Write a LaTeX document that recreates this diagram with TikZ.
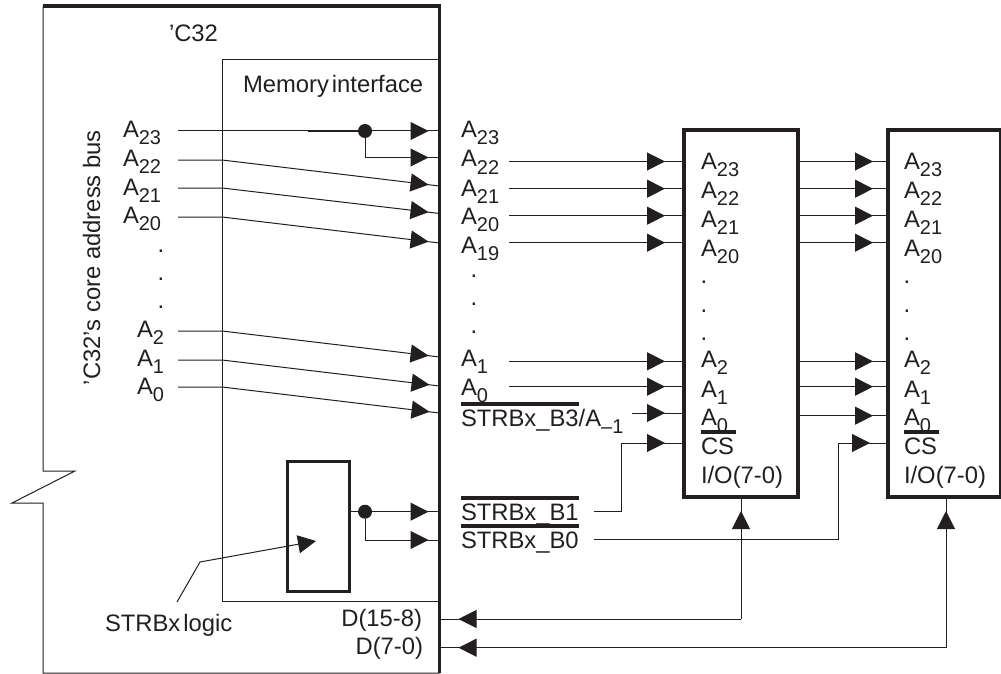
\documentclass[tikz,border=0pt]{standalone}
\usepackage{fontspec}
\setmainfont{Liberation Sans}
\usepackage{xcolor}
\usetikzlibrary{arrows.meta,calc,decorations.markings}
\definecolor{ink}{HTML}{231F20}
\newcommand{\lowsub}[1]{\raisebox{-7pt}{\fontsize{20}{20}\selectfont #1}}
\newcommand{\ovbar}[1]{\sbox0{#1}\rlap{\rule[20pt]{\wd0}{4pt}}#1}

\begin{document}
\begin{tikzpicture}[
			x=1pt, y=-1pt, color=ink,
			every node/.style={font=\fontsize{23.8}{26}\selectfont, text=ink},
			lab/.style={anchor=base west, inner sep=0pt, outer sep=0pt},
			dotlab/.style={anchor=base, inner sep=0pt, outer sep=0pt},
			chip/.style={draw, line width=3.5pt, minimum width=#1, minimum height=367pt, inner sep=0pt, outer sep=0pt},
			frame/.style={draw, line width=1pt, inner sep=0pt, outer sep=0pt, minimum width=217.5pt, minimum height=541pt},
			logicbox/.style={draw, line width=3pt, inner sep=0pt, outer sep=0pt, minimum width=62pt, minimum height=130pt},
			split/.style={circle, fill=ink, inner sep=0pt, minimum size=14pt},
			wire/.style={line width=1pt},
			tipat/.style={postaction={decorate}, decoration={markings, mark=at position #1 with {\arrow{Triangle[length=18pt,width=18pt]}}}},
			ar/.style={line width=1pt, -{Triangle[length=18pt,width=18pt]}}]
			\useasboundingbox (0,0) rectangle (1001,674);
			% outline of the device
			\coordinate (cpunw) at (43,6);
			\coordinate (cpune) at (439.5,6);
			\coordinate (cpuse) at (439.5,673);
			\coordinate (cpusw) at (43,673);
			\coordinate (brka) at (43,471);
			\coordinate (brkb) at (75,471);
			\coordinate (brkc) at (12,503);
			\coordinate (brkd) at (43,503);
			\draw[wire] (cpunw) -- (brka) -- (brkb) -- (brkc) -- (brkd) -- (cpusw) -- (cpuse);
			\node[frame] (memif) at (330.75,330.5) {};
			\draw[line width=3.5pt, line cap=square] (cpunw) -- (cpune) -- (cpuse);
			\node[logicbox] (logic) at (318,526) {};
			\node[chip=114pt] (chipa) at (741,313.5) {};
			\node[chip=113pt] (chipb) at (944.5,313.5) {};
			% titles
			\node[lab] (title) at (169,42) {’C32};
			\node[lab] (memname) at (243,93) {Memory\kern3pt interface};
			\node[lab, rotate=90] (busname) at (100,385) {’C32’s core address bus};
			\node[lab] (logicname) at (105,631) {STRBx\kern3pt logic};
			% core side labels
			\node[lab] (cA23) at (123,138) {A\lowsub{23}};
			\node[lab] (cA22) at (123,166) {A\lowsub{22}};
			\node[lab] (cA21) at (123,195) {A\lowsub{21}};
			\node[lab] (cA20) at (123,223) {A\lowsub{20}};
			\node[dotlab] (cdota) at (161,252.5) {.};
			\node[dotlab] (cdotb) at (161,280.5) {.};
			\node[dotlab] (cdotc) at (161,308.5) {.};
			\node[lab] (cA2) at (137,337) {A\lowsub{2}};
			\node[lab] (cA1) at (137,366) {A\lowsub{1}};
			\node[lab] (cA0) at (137,394) {A\lowsub{0}};
			% external labels
			\node[lab] (xA23) at (461,138) {A\lowsub{23}};
			\node[lab] (xA22) at (461,167) {A\lowsub{22}};
			\node[lab] (xA21) at (461,196) {A\lowsub{21}};
			\node[lab] (xA20) at (461,224) {A\lowsub{20}};
			\node[lab] (xA19) at (461,253) {A\lowsub{19}};
			\node[dotlab] (xdota) at (474,277.5) {.};
			\node[dotlab] (xdotb) at (474,305.5) {.};
			\node[dotlab] (xdotc) at (474,333.5) {.};
			\node[lab] (xA1) at (461,366) {A\lowsub{1}};
			\node[lab] (xA0) at (461,395) {A\lowsub{0}};
			\node[lab] (xstba) at (461,426) {\ovbar{STRBx\_B3}/A\lowsub{--1}};
			\node[lab] (xstbb) at (461,520) {\ovbar{STRBx\_B1}};
			\node[lab] (xstbc) at (461,548) {\ovbar{STRBx\_B0}};
			\node[lab, anchor=base east] (dhigh) at (422,626) {D(15-8)};
			\node[lab, anchor=base east] (dlow) at (423,654) {D(7-0)};
			% first memory
			\node[lab] (aA23) at (701,169) {A\lowsub{23}};
			\node[lab] (aA22) at (701,198) {A\lowsub{22}};
			\node[lab] (aA21) at (701,227) {A\lowsub{21}};
			\node[lab] (aA20) at (701,256) {A\lowsub{20}};
			\node[dotlab] (adota) at (704,283.5) {.};
			\node[dotlab] (adotb) at (704,312.5) {.};
			\node[dotlab] (adotc) at (704,340.5) {.};
			\node[lab] (aA2) at (701,367) {A\lowsub{2}};
			\node[lab] (aA1) at (701,397) {A\lowsub{1}};
			\node[lab] (aA0) at (701,425) {A\lowsub{0}};
			\node[lab] (acs) at (701,454) {\ovbar{CS\kern2pt}};
			\node[lab] (aio) at (701,483) {I/O(7-0)};
			% second memory
			\node[lab] (bA23) at (904,169) {A\lowsub{23}};
			\node[lab] (bA22) at (904,198) {A\lowsub{22}};
			\node[lab] (bA21) at (904,227) {A\lowsub{21}};
			\node[lab] (bA20) at (904,256) {A\lowsub{20}};
			\node[dotlab] (bdota) at (907,283.5) {.};
			\node[dotlab] (bdotb) at (907,312.5) {.};
			\node[dotlab] (bdotc) at (907,340.5) {.};
			\node[lab] (bA2) at (904,367) {A\lowsub{2}};
			\node[lab] (bA1) at (904,397) {A\lowsub{1}};
			\node[lab] (bA0) at (904,425) {A\lowsub{0}};
			\node[lab] (bcs) at (904,454) {\ovbar{CS\kern2pt}};
			\node[lab] (bio) at (904,483) {I/O(7-0)};
			% wires through the interface
			\coordinate (in23) at (178,131);
			\coordinate (in22) at (178,160);
			\coordinate (in21) at (178,188);
			\coordinate (in20) at (178,217);
			\coordinate (in2) at (178,331);
			\coordinate (in1) at (178,360);
			\coordinate (in0) at (178,387);
			\coordinate (out23) at (439.5,131);
			\coordinate (out22) at (439.5,157.5);
			\coordinate (out21) at (439.5,186);
			\coordinate (out20) at (439.5,213.5);
			\coordinate (out19) at (439.5,243);
			\coordinate (out1) at (439.5,357);
			\coordinate (out0) at (439.5,386);
			\coordinate (outm) at (439.5,413);
			\coordinate (heavy) at (308,131);
			\node[split] (fork) at (365,131) {};
			\draw[wire, tipat=-11pt] (in23) -- (out23);
			\draw[line width=1.6pt] (heavy) -- (fork);
			\draw[wire, tipat=-11pt] (fork) |- (out22);
			\draw[wire, tipat=-11pt] (in22) -- (in22 -| memif.west) -- (out21);
			\draw[wire, tipat=-11pt] (in21) -- (in21 -| memif.west) -- (out20);
			\draw[wire, tipat=-11pt] (in20) -- (in20 -| memif.west) -- (out19);
			\draw[wire, tipat=-11pt] (in2) -- (in2 -| memif.west) -- (out1);
			\draw[wire, tipat=-10pt] (in1) -- (in1 -| memif.west) -- (out0);
			\draw[wire, tipat=-10pt] (in0) -- (in0 -| memif.west) -- (outm);
			% strobe logic
			\coordinate (stba) at (439.5,511.7);
			\coordinate (stbb) at (439.5,540);
			\coordinate (ptrs) at (177,602);
			\coordinate (ptrm) at (200,562);
			\coordinate (ptre) at (316,541);
			\node[split] (stbfork) at (365,511.7) {};
			\draw[wire, tipat=-11pt] (stbfork -| logic.east) -- (stba);
			\draw[wire, tipat=-11pt] (stbfork) |- (stbb);
			\draw[ar] (ptrs) -- (ptrm) -- (ptre);
			% address rows to the memories
			\coordinate (row23) at (509,161.5);
			\coordinate (row22) at (509,188.7);
			\coordinate (row21) at (509,215.7);
			\coordinate (row20) at (509,242.7);
			\coordinate (row2) at (509,361.3);
			\coordinate (row1) at (509,386.7);
			\coordinate (rowm) at (632,413);
			\coordinate (rowz) at (798,415.7);
			\draw[wire, tipat=-19pt] (row23) -- (row23 -| chipa.west);
			\draw[wire, tipat=-19pt] (row22) -- (row22 -| chipa.west);
			\draw[wire, tipat=-19pt] (row21) -- (row21 -| chipa.west);
			\draw[wire, tipat=-19pt] (row20) -- (row20 -| chipa.west);
			\draw[wire, tipat=-19pt] (row2) -- (row2 -| chipa.west);
			\draw[wire, tipat=-19pt] (row1) -- (row1 -| chipa.west);
			\draw[wire, tipat=-19pt] (rowm) -- (rowm -| chipa.west);
			\draw[wire, tipat=-15pt] (row23 -| chipa.east) -- (row23 -| chipb.west);
			\draw[wire, tipat=-15pt] (row22 -| chipa.east) -- (row22 -| chipb.west);
			\draw[wire, tipat=-15pt] (row21 -| chipa.east) -- (row21 -| chipb.west);
			\draw[wire, tipat=-15pt] (row20 -| chipa.east) -- (row20 -| chipb.west);
			\draw[wire, tipat=-15pt] (row2 -| chipa.east) -- (row2 -| chipb.west);
			\draw[wire, tipat=-15pt] (row1 -| chipa.east) -- (row1 -| chipb.west);
			\draw[wire, tipat=-15pt] (rowz -| chipa.east) -- (rowz -| chipb.west);
			% chip selects
			\coordinate (csa) at (594,511.7);
			\coordinate (csb) at (594,539.5);
			\coordinate (csaup) at (621.4,443);
			\coordinate (csbup) at (838,443);
			\draw[wire, tipat=-19pt] (csa) -| (csaup) -- (csaup -| chipa.west);
			\draw[wire, tipat=-18pt] (csb) -| (csbup) -- (csbup -| chipb.west);
			% data buses
			\coordinate (dqa) at (741,619);
			\coordinate (dqb) at (946,647.7);
			\draw[wire, tipat=-14pt] (dqa) -- (chipa.south);
			\draw[wire, tipat=-19pt] (dqa) -- (dqa -| memif.east);
			\draw[wire, tipat=-14pt] (dqb) -- (dqb |- chipb.south);
			\draw[wire, tipat=-19pt] (dqb) -- (dqb -| memif.east);
		\end{tikzpicture}
\end{document}
